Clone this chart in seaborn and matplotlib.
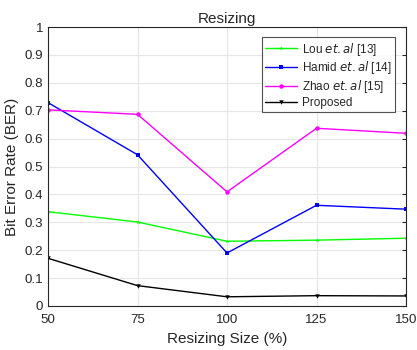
import matplotlib
matplotlib.use("Agg")
import matplotlib.pyplot as plt
import seaborn as sns
import pandas as pd

sizes = [50, 75, 100, 125, 150]
lou = [0.338, 0.301, 0.232, 0.236, 0.243]
hamid = [0.729, 0.542, 0.190, 0.361, 0.347]
zhao = [0.703, 0.687, 0.409, 0.637, 0.619]
proposed = [0.171, 0.073, 0.033, 0.037, 0.036]
labels = [r"Lou $\it{et.al}$ [13]", r"Hamid $\it{et.al}$ [14]", r"Zhao $\it{et.al}$ [15]", "Proposed"]
colors = ["#00ff00", "#0000ff", "#ff00ff", "#000000"]
markers = ["*", "s", "o", "v"]

sns.set_style("white")
plt.rcParams['font.family'] = ['Liberation Sans', 'DejaVu Sans']

rows = []
for lab, vals in zip(labels, [lou, hamid, zhao, proposed]):
    for s, v in zip(sizes, vals):
        rows.append({"size": s, "ber": v, "method": lab})
df = pd.DataFrame(rows)

fig = plt.figure(figsize=(4.17, 3.5), dpi=100)
ax = fig.add_axes([48/417, 1-306/350, (406-48)/417, (306-27)/350])

sns.lineplot(data=df, x="size", y="ber", hue="method", style="method",
             palette=dict(zip(labels, colors)), markers=dict(zip(labels, markers)),
             dashes=False, markersize=3.2, linewidth=1, markeredgewidth=0, ax=ax)

ax.set_xlim(50, 150)
ax.set_ylim(0, 1)
ax.set_xticks(sizes)
ax.set_yticks([i/10 for i in range(11)])
ax.set_yticklabels(["0", "0.1", "0.2", "0.3", "0.4", "0.5", "0.6", "0.7", "0.8", "0.9", "1"])
ax.grid(True, color="#e6e6e6", linewidth=0.8)
ax.set_axisbelow(True)
for sp in ax.spines.values():
    sp.set_color("#262626")
    sp.set_linewidth(0.8)
ax.tick_params(direction="in", length=3, colors="#262626", labelsize=9.6, top=False, right=True, width=0.8)
ax.tick_params(axis="x", pad=6)
ax.set_xlabel("Resizing Size (%)", fontsize=11, color="#262626")
ax.set_ylabel("Bit Error Rate (BER)", fontsize=11, color="#262626")
ax.set_title("Resizing", fontsize=11, pad=3)

leg = ax.legend(loc="upper right", fontsize=8.5, frameon=True, fancybox=False,
                edgecolor="#262626", borderpad=0.3, labelspacing=0.15, handlelength=2.7,
                handletextpad=0.4, bbox_to_anchor=(0.985, 0.985))
leg.get_frame().set_linewidth(0.8)

fig.savefig("out.png", dpi=100)
